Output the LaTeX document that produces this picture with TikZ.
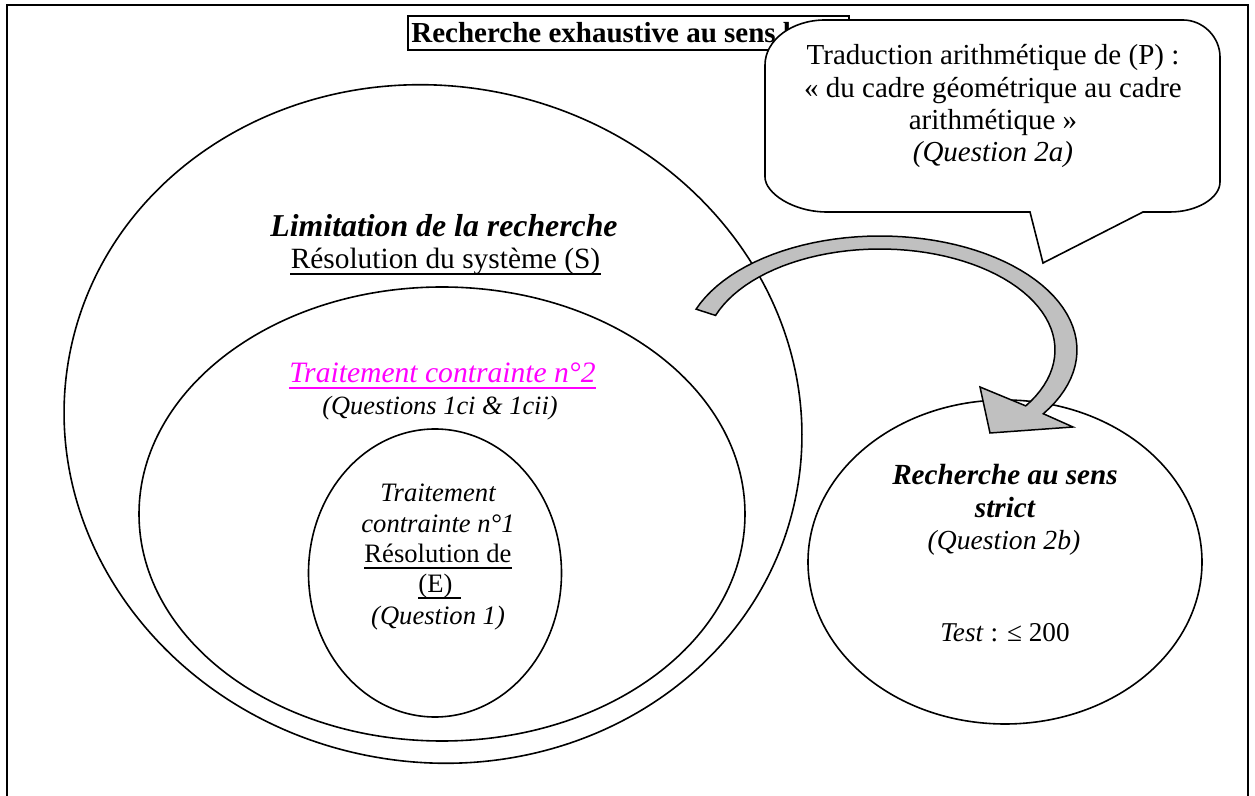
\documentclass[tikz,border=0pt]{standalone}
\usepackage{fontspec}
\setmainfont{Liberation Serif}
\usetikzlibrary{calc,shapes.geometric}
\definecolor{arrowgray}{HTML}{C0C0C0}
\definecolor{pinkish}{HTML}{FF00FF}
\newcommand\fsz[1]{\fontsize{#1}{#1}\selectfont}
\begin{document}
\begin{tikzpicture}[x=0.5pt,y=-0.5pt,
  txt/.style={inner sep=0pt, anchor=base},
  oval/.style={ellipse, draw, line width=0.8pt, inner sep=0pt},
  uline/.style={line width=0.6pt}]
\useasboundingbox (0,0) rectangle (1255,796);
% frame
\draw[line width=1.3pt] (7,796) -- (7,5) -- (1248,5) -- (1248,796);
% title
\node[txt, anchor=base west, font=\bfseries\fsz{14.5}] (title) at (411,43) {Recherche exhaustive au sens large};
\draw[line width=1pt] (408,16) rectangle (849,50);
% ellipses
\node[oval, minimum width=370pt, minimum height=338pt, rotate=-11] (big) at (433,424) {};
\node[oval, minimum width=303pt, minimum height=227pt] (mid) at (442,514) {};
\node[oval, minimum width=126.5pt, minimum height=144pt] (small) at (435,573) {};
\node[oval, minimum width=197pt, minimum height=162pt] (right) at (1005,562) {};
% curved block arrow
\filldraw[fill=arrowgray, line width=0.75pt, line join=miter]
  plot[domain=-159:34, samples=60] ({880+197*cos(\x)},{350+114*sin(\x)})
  -- (1073,427) -- (990,433) -- (980,387)
  -- plot[domain=33.6:-160, samples=60] ({880+175*cos(\x)},{350+101*sin(\x)})
  -- cycle;
% callout
\filldraw[fill=white, line width=0.8pt]
  (1030,212) -- (827,212) .. controls (793,212) and (765,193) .. (765,177)
  -- (765,65) .. controls (765,40) and (792,20) .. (825,20)
  -- (1183,20) .. controls (1203,20) and (1220,37) .. (1220,57)
  -- (1220,182) .. controls (1220,198) and (1197,212) .. (1170,212)
  -- (1143,212) -- (1043,263) -- cycle;
\node[txt, font=\fsz{14.5}] (c1) at (993,65) {Traduction arithmétique de (P) :};
\node[txt, font=\fsz{14.5}] (c2) at (993,98) {«~du cadre géométrique au cadre};
\node[txt, font=\fsz{14.5}] (c3) at (993,130) {arithmétique~»};
\node[txt, font=\itshape\fsz{14.5}] (c4) at (993,162) {(Question 2a)};
% big ellipse texts
\node[txt, font=\bfseries\itshape\fsz{15.9}] (lim) at (444,237) {Limitation de la recherche};
\node[txt, font=\fsz{14.7}] (resS) at (445.5,269) {Résolution du système (S)};
\draw[uline] ($(resS.base west)+(0,5)$) -- ($(resS.base east)+(0,5)$);
% middle ellipse texts
\node[txt, font=\itshape\fsz{14.8}, text=pinkish] (t2) at (442.5,383) {Traitement contrainte n°2};
\draw[uline, pinkish] ($(t2.base west)+(0,5)$) -- ($(t2.base east)+(0,5)$);
\node[txt, font=\itshape\fsz{13.2}] (q1c) at (440,415) {(Questions 1ci \& 1cii)};
% small circle texts
\node[txt, font=\itshape\fsz{13.3}] (s1) at (438,502) {Traitement};
\node[txt, font=\itshape\fsz{13.3}] (s2) at (438,533) {contrainte n°1};
\node[txt, font=\fsz{13.3}] (s3) at (438,563) {Résolution de};
\draw[uline] ($(s3.base west)+(0,5)$) -- ($(s3.base east)+(0,5)$);
\node[txt, anchor=base west, font=\fsz{13.3}] (s4) at (418,593) {(E)};
\draw[uline] ($(s4.base west)+(0,5)$) -- ($(s4.base east)+(8,5)$);
\node[txt, font=\itshape\fsz{13.3}] (s5) at (438,625) {(Question 1)};
% right ellipse texts
\node[txt, font=\bfseries\itshape\fsz{14.6}] (r1) at (1005,485) {Recherche au sens};
\node[txt, font=\bfseries\itshape\fsz{14.6}] (r2) at (1005,518) {strict};
\node[txt, font=\itshape\fsz{13.8}] (r3) at (1004,550) {(Question 2b)};
\node[txt, font=\fsz{13.6}] (r4) at (1005,642) {\textit{Test} : ≤ 200};
\end{tikzpicture}
\end{document}
